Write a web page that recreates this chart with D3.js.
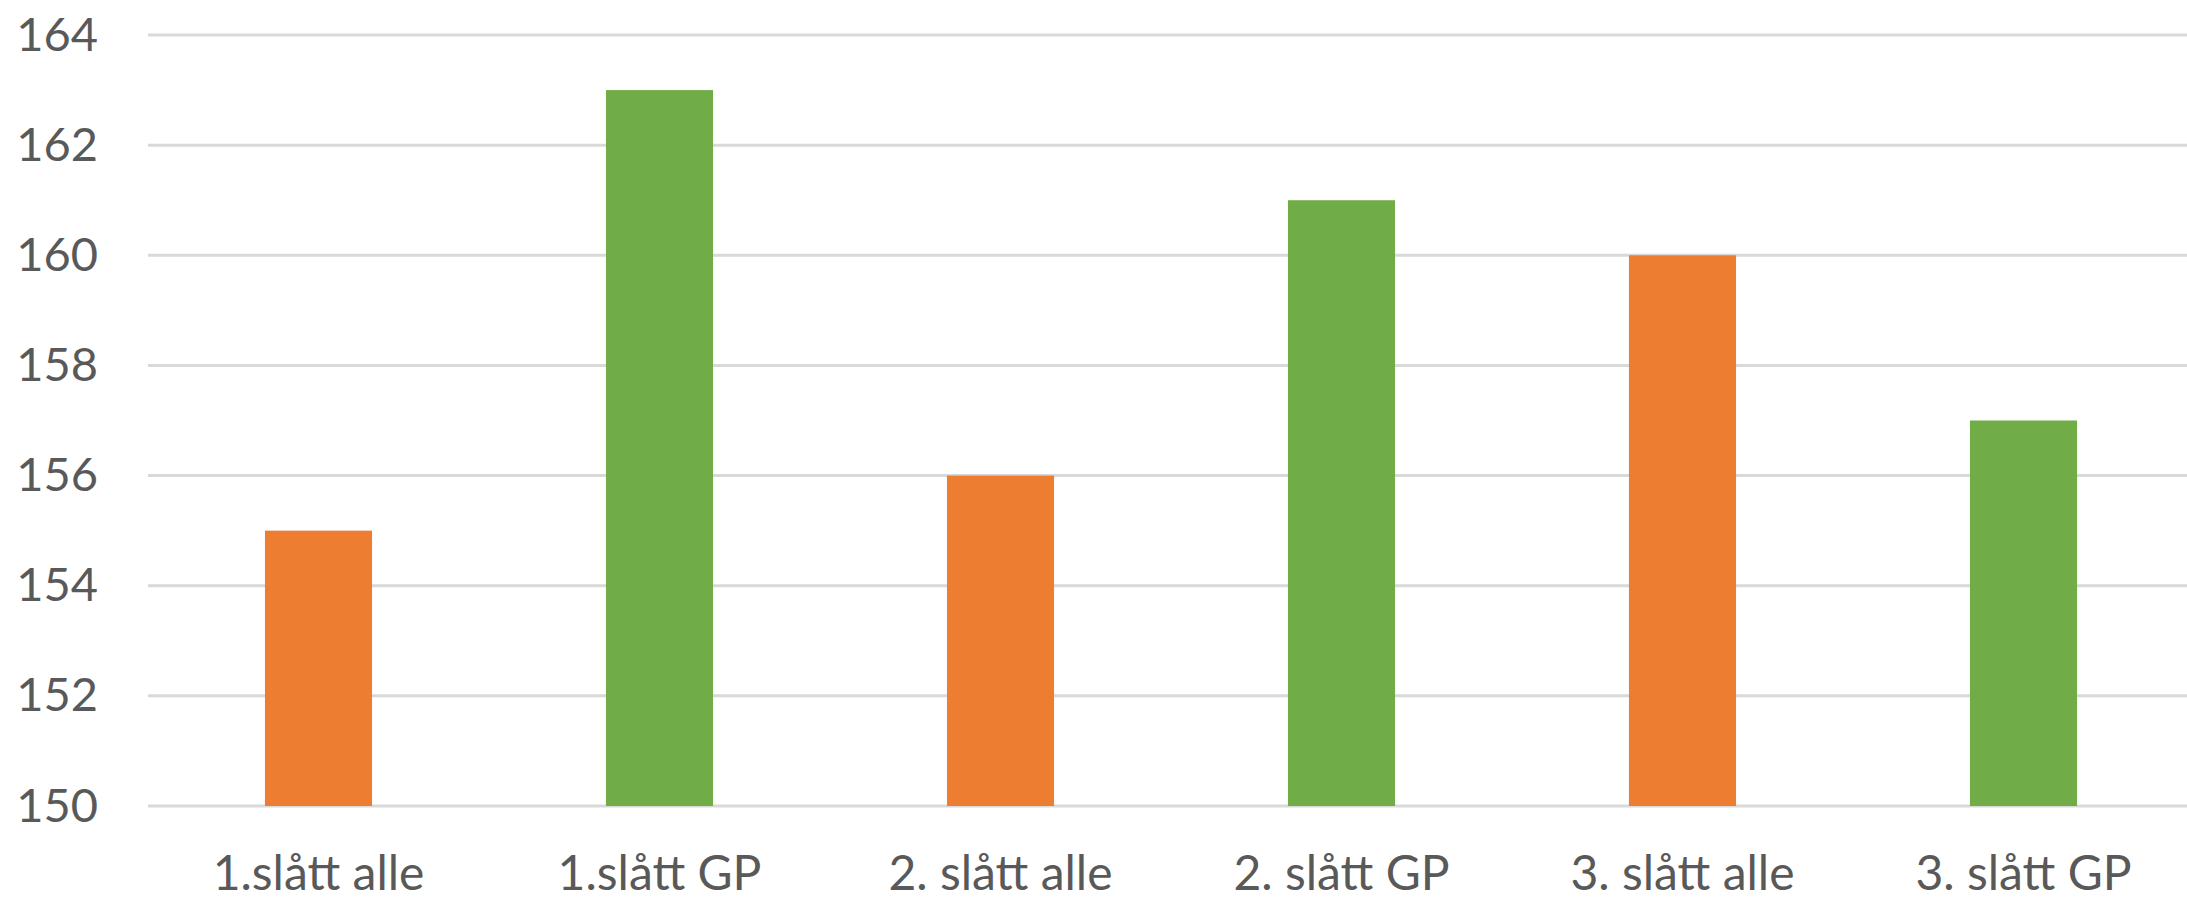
<!DOCTYPE html>
<html><head><meta charset="utf-8">
<script src="https://cdn.jsdelivr.net/npm/d3@7"></script>
<style>html,body{margin:0;padding:0;background:#fff;overflow:hidden}</style>
</head><body>
<svg id="chart" width="2187" height="899"></svg>
<script>
const categories = ["1.slått alle", "1.slått GP", "2. slått alle", "2. slått GP", "3. slått alle", "3. slått GP"];
const values = [155, 163, 156, 161, 160, 157];
const seriesColors = ["#ED7D31", "#70AD47", "#ED7D31", "#70AD47", "#ED7D31", "#70AD47"];
const yTicks = [150, 152, 154, 156, 158, 160, 162, 164];

(function () {
const svg = d3.select("#chart");
const mLeft = 148, mRight = 2194, mTop = 35, mBottom = 806;

const x = d3.scaleBand().domain(categories).range([mLeft, mRight]).paddingInner(0.686).paddingOuter(0.343);
const y = d3.scaleLinear().domain([150, 164]).range([mBottom, mTop]);

const font = "Lato, 'Open Sans', sans-serif";

svg.append("g").selectAll("line").data(yTicks).join("line")
  .attr("x1", mLeft).attr("x2", 2187)
  .attr("y1", d => y(d)).attr("y2", d => y(d))
  .attr("stroke", "#d9d9d9").attr("stroke-width", 3);

svg.append("g").selectAll("rect").data(values).join("rect")
  .attr("x", (d, i) => x(categories[i]))
  .attr("width", x.bandwidth())
  .attr("y", d => y(d))
  .attr("height", d => y(150) - y(d))
  .attr("fill", (d, i) => seriesColors[i]);

const yAxis = svg.append("g").attr("transform", `translate(${mLeft - 50},0)`)
  .call(d3.axisLeft(y).tickValues(yTicks).tickSize(0).tickPadding(0));
yAxis.select(".domain").remove();
yAxis.selectAll("text").attr("font-family", font).attr("font-size", 47).attr("fill", "#595959");

const xAxis = svg.append("g").attr("transform", `translate(0,${mBottom})`)
  .call(d3.axisBottom(x).tickSize(0).tickPadding(50));
xAxis.select(".domain").remove();
xAxis.selectAll("text").attr("font-family", font).attr("font-size", 48).attr("fill", "#595959");
})();
</script>
</body></html>
